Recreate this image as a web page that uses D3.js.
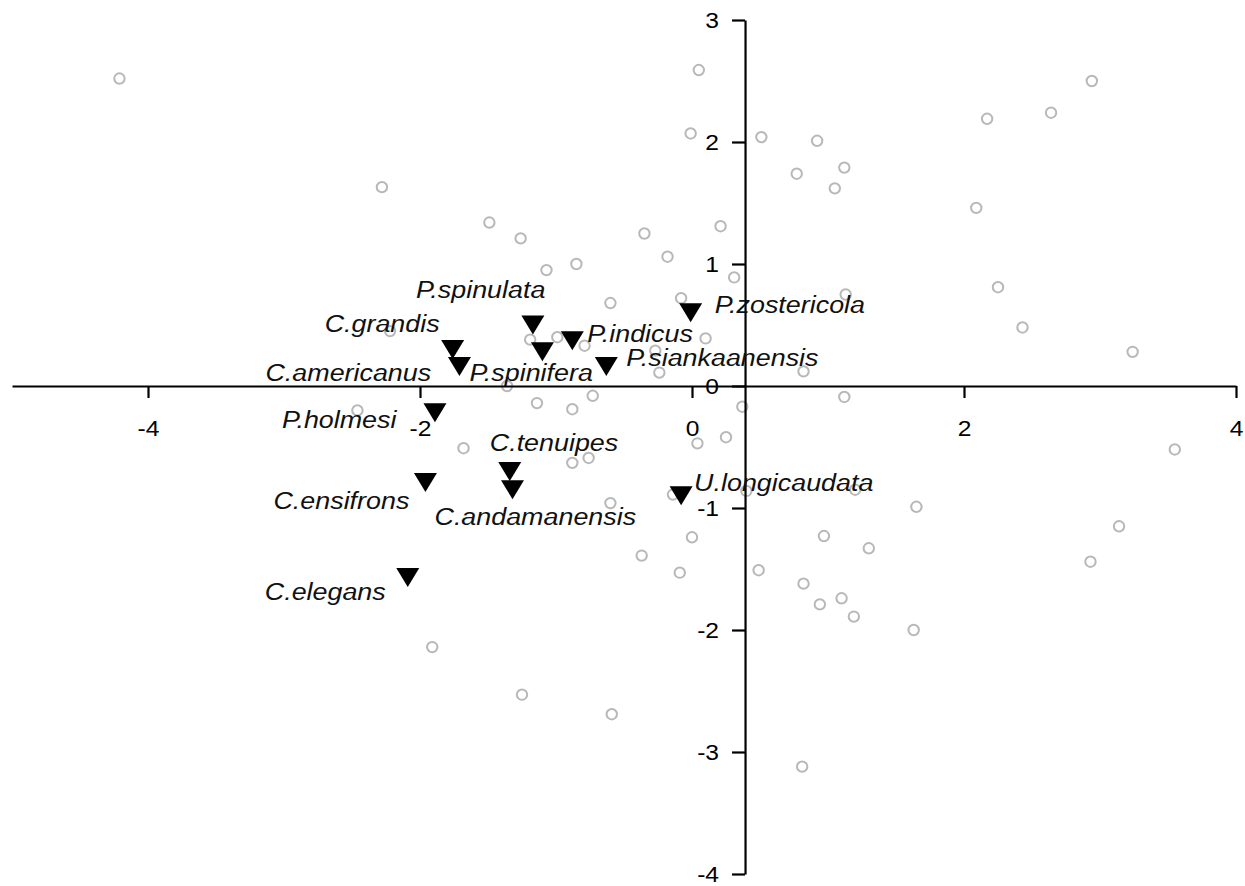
<!DOCTYPE html>
<html>
<head>
<meta charset="utf-8">
<script src="https://cdn.jsdelivr.net/npm/d3@7"></script>
<style>
  body { margin: 0; background: #fff; }
  svg { display: block; font-family: 'Liberation Sans', Arial, sans-serif; }
</style>
</head>
<body>
<svg id="chart"></svg>
<script>
// open circles (site scores)
const siteX = [-4.21, -2.28, 0.05, -0.01, 0.51, 0.92, 0.77, 1.05, 1.12, -1.49,
  -1.26, -1.07, -0.85, -0.35, -0.18, 0.21, 0.31, -0.60, -0.08, 2.94,
  2.64, 2.17, 2.09, 2.25, 1.13, -2.22, -2.46, -1.19, -0.99, -0.79,
  -0.27, -0.24, 0.10, -1.36, -1.14, -0.88, -0.73, 0.37, -1.68, -0.88,
  -0.76, 0.04, 0.25, -0.60, -0.14, 0.40, 0.00, -0.37, -0.09, 0.49,
  0.82, 0.94, 0.97, 0.82, 1.12, 2.43, 3.24, 3.55, 1.20, 1.65,
  3.14, 2.93, 1.30, 1.10, 1.19, 1.63, -1.91, -1.25, -0.59, 0.81];
const siteY = [2.52, 1.63, 2.59, 2.07, 2.04, 2.01, 1.74, 1.62, 1.79, 1.34,
  1.21, 0.95, 1.00, 1.25, 1.06, 1.31, 0.89, 0.68, 0.72, 2.50,
  2.24, 2.19, 1.46, 0.81, 0.75, 0.45, -0.20, 0.38, 0.40, 0.33,
  0.29, 0.11, 0.39, 0.00, -0.14, -0.19, -0.08, -0.17, -0.51, -0.63,
  -0.59, -0.47, -0.42, -0.96, -0.89, -0.86, -1.24, -1.39, -1.53, -1.51,
  -1.62, -1.79, -1.23, 0.12, -0.09, 0.48, 0.28, -0.52, -0.85, -0.99,
  -1.15, -1.44, -1.33, -1.74, -1.89, -2.00, -2.14, -2.53, -2.69, -3.12];

// species (filled triangles)
const species = ['P.spinulata', 'P.zostericola', 'P.indicus', 'P.spinifera', 'P.siankaanensis',
  'C.grandis', 'C.americanus', 'P.holmesi', 'C.tenuipes', 'C.andamanensis',
  'C.ensifrons', 'U.longicaudata', 'C.elegans'];
const speciesX = [-1.17, -0.01, -0.88, -1.10, -0.63, -1.76, -1.71, -1.89, -1.34, -1.32, -1.96, -0.08, -2.09];
const speciesY = [0.50, 0.60, 0.37, 0.28, 0.16, 0.30, 0.16, -0.22, -0.70, -0.85, -0.79, -0.90, -1.57];

const xTicks = [-4, -2, 0, 2, 4];
const yTicks = [-4, -3, -2, -1, 0, 1, 2, 3];

// label placement, px offset of text start from the triangle
const labelDx = [-117, 24, 15, -73, 20, -128, -194, -153, -20, -78, -152, 13, -143];
const labelDy = [-27, 0, 1, 29, 0, -17, 15, 15, -20, 35, 27, -5, 22];

const width = 1245,
  height = 886,
  stretch = 1.12;

const svg = d3.select('#chart')
  .attr('width', width)
  .attr('height', height);

const x = d3.scaleLinear().domain([-5, 4]).range([12, 1236]);
const y = d3.scaleLinear().domain([-4, 3]).range([874, 20]);
const yAxisAt = 0.39;

svg.append('rect').attr('width', width).attr('height', height).attr('fill', '#fff');

svg.append('g')
  .selectAll('circle')
  .data(siteX)
  .join('circle')
  .attr('cx', d => x(d))
  .attr('cy', (d, i) => y(siteY[i]))
  .attr('r', 5.2)
  .attr('fill', 'none')
  .attr('stroke', '#b8b8b8')
  .attr('stroke-width', 2);

const xAxis = svg.append('g')
  .attr('transform', 'translate(0,' + y(0) + ')')
  .call(d3.axisBottom(x).tickValues(xTicks).tickSize(12).tickSizeOuter(0).tickFormat(d => String(d)));

const yAxis = svg.append('g')
  .attr('transform', 'translate(' + x(yAxisAt) + ',0)')
  .call(d3.axisLeft(y).tickValues(yTicks).tickSize(13).tickSizeOuter(0).tickFormat(d => String(d)));

[xAxis, yAxis].forEach(g => {
  g.select('.domain').attr('stroke', '#000').attr('stroke-width', 2.2);
  g.selectAll('.tick line').attr('stroke', '#000').attr('stroke-width', 2.2);
  g.selectAll('.tick text')
    .attr('fill', '#000')
    .style('font-size', '22px')
    .attr('transform', 'scale(' + stretch + ',1)');
});

xAxis.selectAll('.tick text').attr('y', 50).attr('dy', 0);
yAxis.selectAll('.tick text').attr('x', -26 / stretch).attr('dy', '0.32em');

const sp = svg.append('g')
  .selectAll('g')
  .data(species)
  .join('g')
  .attr('transform', (d, i) => 'translate(' + x(speciesX[i]) + ',' + y(speciesY[i]) + ')');

sp.append('path')
  .attr('d', 'M-11.5,-9.5L11.5,-9.5L0,9.5Z')
  .attr('fill', '#000');

sp.append('text')
  .attr('transform', (d, i) => 'translate(' + labelDx[i] + ',' + labelDy[i] + ') scale(' + stretch + ',1)')
  .style('font-size', '24px')
  .style('font-style', 'italic')
  .attr('fill', '#111')
  .text(d => d);
</script>
</body>
</html>
